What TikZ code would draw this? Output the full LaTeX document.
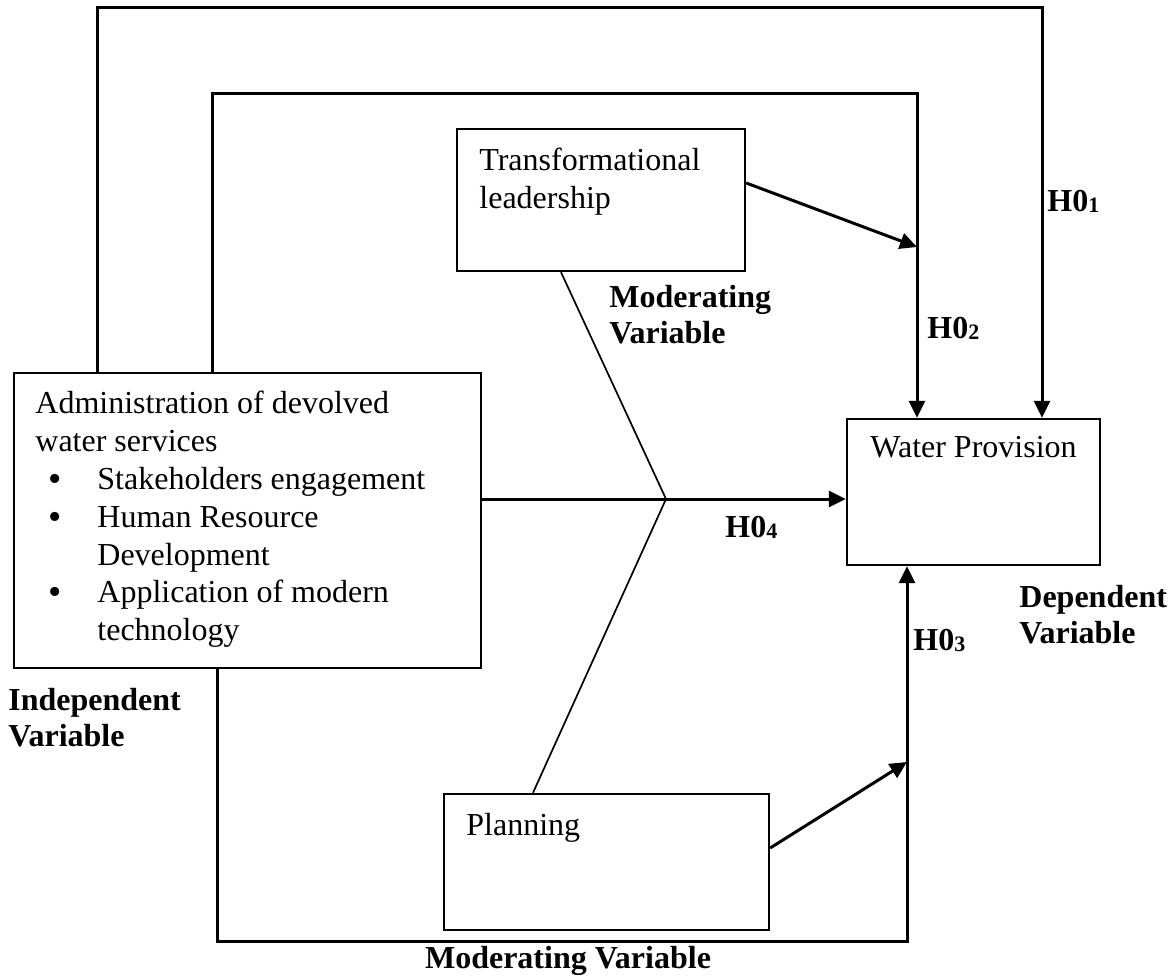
\documentclass[tikz,border=0pt]{standalone}
\usepackage{fontspec}
\setmainfont{Liberation Serif}
\usetikzlibrary{positioning,arrows.meta,calc}
\newcommand{\hyp}[1]{H0\raisebox{-0.5pt}{\fontsize{11}{11}\selectfont #1}}
\newcommand{\blt}{\hspace*{6.5pt}\makebox[24.5pt][l]{\raisebox{-1pt}{\fontsize{19}{19}\selectfont\textbullet}}}

\begin{document}
\begin{tikzpicture}[
  x=0.5pt, y=-0.5pt,
  box/.style={draw, line width=1.2pt, inner sep=0pt},
  txt/.style={font=\fontsize{16}{18.9}\selectfont, align=left, inner sep=0pt},
  lbl/.style={font=\fontsize{16}{18}\selectfont\bfseries, align=left, inner sep=0pt},
  arr/.style={-{Triangle[length=8.5pt,width=8pt]}, line width=1.5pt, black},
  vline/.style={line width=0.85pt}
]
  \useasboundingbox (0,0) rectangle (1175,979);

  % Boxes
  \node[box, minimum width=233.5pt, minimum height=147.5pt] (admin) at (247.5,520.5) {};
  \node[box, minimum width=144pt, minimum height=71pt] (trans) at (601,200) {};
  \node[box, minimum width=126.5pt, minimum height=73pt] (water) at (973.5,492) {};
  \node[box, minimum width=162.5pt, minimum height=68pt] (plan) at (606.5,862) {};

  % Box texts
  \node[txt, anchor=north west] (admintxt) at (35,391) {Administration of devolved\\water services\\
    \blt Stakeholders engagement\\
    \blt Human Resource\\
    \hspace*{31pt}Development\\
    \blt Application of modern\\
    \hspace*{31pt}technology};
  \node[txt, anchor=north west] (transtxt) at (479,148) {Transformational\\leadership};
  \node[txt, anchor=north west] (watertxt) at (870,436) {Water Provision};
  \node[txt, anchor=north west] (plantxt) at (466,813) {Planning};

  % Corner points
  \coordinate (o1) at (97,8);
  \coordinate (o2) at (1042,8);
  \coordinate (i1) at (212,94);
  \coordinate (i2) at (917,94);
  \coordinate (b1) at (217,941);
  \coordinate (b2) at (907,941);
  \coordinate (vx) at (666,499);
  \coordinate (tl) at (561,0);
  \coordinate (pl) at (533,0);
  \coordinate (h2) at (917,247);
  \coordinate (h3) at (907,762);

  % Paths H01, H02, H03
  \draw[arr] (admin.north -| o1) |- (o2) -- (water.north -| o2);
  \draw[arr] (admin.north -| i1) |- (i2) -- (water.north -| i2);
  \draw[arr] (admin.south -| b1) |- (b2) -- (water.south -| b2);

  % Path H04 and moderator lines
  \draw[arr] (admin.east |- vx) -- (water.west |- vx);
  \draw[vline] (trans.south -| tl) -- (vx) -- (plan.north -| pl);

  % Moderator arrows
  \draw[arr] (trans.east |- 0,183) -- (h2);
  \draw[arr] (plan.east |- 0,848) -- (h3);

  % Hypothesis labels
  \node[lbl, anchor=west] (l1) at (1047,201) {\hyp{1}};
  \node[lbl, anchor=west] (l2) at (927,328) {\hyp{2}};
  \node[lbl, anchor=west] (l3) at (913,640) {\hyp{3}};
  \node[lbl, anchor=west] (l4) at (725,527) {\hyp{4}};

  % Variable labels
  \node[lbl, anchor=north west] (modtop) at (609,285) {Moderating\\Variable};
  \node[lbl, anchor=north west] (dep) at (1019,585) {Dependent\\Variable};
  \node[lbl, anchor=north west] (indep) at (8,688) {Independent\\Variable};
  \node[lbl, anchor=north] (modbot) at (568,946) {Moderating Variable};
\end{tikzpicture}
\end{document}
